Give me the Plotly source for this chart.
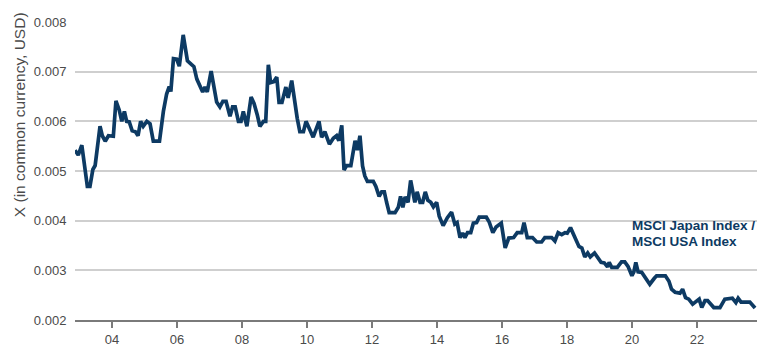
import plotly.graph_objects as go

# Decimal year of each observation
years = [2002.86, 2002.96, 2003.07, 2003.17, 2003.24, 2003.32, 2003.41, 2003.48, 2003.55, 2003.63,
         2003.70, 2003.79, 2003.89, 2004.04, 2004.12, 2004.22, 2004.30, 2004.38, 2004.45, 2004.53,
         2004.62, 2004.72, 2004.80, 2004.88, 2004.96, 2005.07, 2005.17, 2005.27, 2005.46, 2005.58,
         2005.68, 2005.76, 2005.81, 2005.89, 2005.99, 2006.07, 2006.19, 2006.32, 2006.45, 2006.52,
         2006.61, 2006.71, 2006.79, 2006.86, 2006.93, 2007.05, 2007.12, 2007.22, 2007.32, 2007.41,
         2007.51, 2007.63, 2007.71, 2007.79, 2007.89, 2007.97, 2008.04, 2008.15, 2008.28, 2008.37,
         2008.47, 2008.55, 2008.66, 2008.73, 2008.81, 2008.88, 2008.98, 2009.07, 2009.14, 2009.23,
         2009.35, 2009.42, 2009.53, 2009.63, 2009.70, 2009.78, 2009.89, 2009.97, 2010.07, 2010.19,
         2010.37, 2010.45, 2010.55, 2010.69, 2010.81, 2010.91, 2010.98, 2011.07, 2011.14, 2011.22,
         2011.35, 2011.48, 2011.55, 2011.63, 2011.71, 2011.78, 2011.86, 2012.04, 2012.12, 2012.22,
         2012.30, 2012.38, 2012.45, 2012.53, 2012.71, 2012.81, 2012.88, 2012.95, 2013.02, 2013.11,
         2013.19, 2013.25, 2013.32, 2013.39, 2013.48, 2013.56, 2013.64, 2013.72, 2013.81, 2013.89,
         2013.99, 2014.07, 2014.19, 2014.32, 2014.45, 2014.55, 2014.62, 2014.71, 2014.79, 2014.86,
         2014.94, 2015.04, 2015.12, 2015.22, 2015.30, 2015.52, 2015.61, 2015.72, 2015.82, 2015.98,
         2016.10, 2016.21, 2016.36, 2016.47, 2016.61, 2016.68, 2016.78, 2016.94, 2017.07, 2017.22,
         2017.32, 2017.53, 2017.63, 2017.73, 2017.84, 2017.94, 2018.01, 2018.11, 2018.19, 2018.28,
         2018.37, 2018.46, 2018.55, 2018.64, 2018.72, 2018.85, 2018.94, 2019.05, 2019.15, 2019.25,
         2019.30, 2019.38, 2019.55, 2019.68, 2019.78, 2019.88, 2020.00, 2020.06, 2020.12, 2020.19,
         2020.30, 2020.42, 2020.55, 2020.69, 2020.76, 2021.03, 2021.14, 2021.22, 2021.33, 2021.48,
         2021.56, 2021.65, 2021.75, 2021.87, 2021.99, 2022.07, 2022.15, 2022.25, 2022.33, 2022.40,
         2022.52, 2022.71, 2022.86, 2023.09, 2023.20, 2023.27, 2023.36, 2023.63, 2023.79]

# MSCI Japan / MSCI USA ratio, in thousandths
ratio_milli = [5.42, 5.32, 5.52, 5.03, 4.69, 4.69, 5.03, 5.11, 5.55, 5.90,
               5.71, 5.60, 5.71, 5.70, 6.41, 6.23, 6.00, 6.20, 6.00, 5.99,
               5.81, 5.79, 5.71, 6.00, 5.90, 6.00, 5.95, 5.60, 5.60, 6.20,
               6.55, 6.70, 6.60, 7.26, 7.25, 7.11, 7.74, 7.22, 7.14, 7.10,
               6.85, 6.69, 6.59, 6.69, 6.59, 7.01, 6.72, 6.39, 6.29, 6.40,
               6.40, 6.10, 6.29, 6.29, 6.00, 6.00, 6.20, 5.90, 6.49, 6.36,
               6.13, 5.90, 6.00, 6.00, 7.14, 6.78, 6.80, 6.89, 6.38, 6.38,
               6.69, 6.47, 6.82, 6.29, 6.06, 5.79, 5.79, 6.00, 5.87, 5.68,
               6.00, 5.68, 5.79, 5.54, 5.66, 5.71, 5.61, 5.92, 5.02, 5.11,
               5.11, 5.61, 5.42, 5.71, 5.10, 4.90, 4.79, 4.79, 4.69, 4.49,
               4.58, 4.58, 4.37, 4.16, 4.16, 4.27, 4.49, 4.27, 4.48, 4.37,
               4.81, 4.58, 4.37, 4.58, 4.37, 4.37, 4.58, 4.41, 4.37, 4.28,
               4.37, 4.09, 3.90, 4.06, 4.17, 3.93, 3.96, 3.66, 3.75, 3.66,
               3.76, 3.76, 3.95, 3.96, 4.07, 4.07, 3.97, 3.76, 3.87, 3.95,
               3.45, 3.65, 3.66, 3.76, 3.76, 3.96, 3.66, 3.66, 3.57, 3.57,
               3.66, 3.66, 3.59, 3.76, 3.72, 3.76, 3.75, 3.86, 3.74, 3.65,
               3.48, 3.45, 3.27, 3.35, 3.27, 3.35, 3.26, 3.16, 3.15, 3.07,
               3.16, 3.06, 3.06, 3.17, 3.17, 3.08, 2.89, 2.97, 3.16, 2.97,
               2.96, 2.84, 2.72, 2.84, 2.89, 2.89, 2.78, 2.62, 2.56, 2.54,
               2.62, 2.45, 2.42, 2.32, 2.38, 2.42, 2.25, 2.39, 2.39, 2.33,
               2.25, 2.25, 2.42, 2.44, 2.35, 2.44, 2.36, 2.36, 2.24]

assert len(years) == len(ratio_milli), (len(years), len(ratio_milli))
ratio = [v / 1000 for v in ratio_milli]

x_tick_years = [2004, 2006, 2008, 2010, 2012, 2014, 2016, 2018, 2020, 2022]
x_tick_labels = ["04", "06", "08", "10", "12", "14", "16", "18", "20", "22"]
y_tick_vals = [0.002, 0.003, 0.004, 0.005, 0.006, 0.007, 0.008]

series_name = ["MSCI Japan Index /", "MSCI USA Index"]
y_title = "X (in common currency, USD)"

NAVY = "#0d3a63"
FONT = "Liberation Sans, Arial, sans-serif"

fig = go.Figure()
fig.add_trace(go.Scatter(
    x=years, y=ratio, mode="lines",
    line=dict(color=NAVY, width=3.7, shape="linear"),
    showlegend=False, hoverinfo="skip",
))

# page body has an 8px default margin, so the figure is 8px smaller on each axis
fig.update_layout(
    width=762, height=351,
    margin=dict(l=67, r=13, t=14, b=39),
    paper_bgcolor="white", plot_bgcolor="white",
    font=dict(family=FONT, size=13, color="#4a4a4a"),
    xaxis=dict(
        range=[2002.86, 2023.85], automargin=False,
        tickmode="array", tickvals=x_tick_years, ticktext=x_tick_labels,
        showgrid=False, zeroline=False,
        showline=True, linecolor="#7a7a7a", linewidth=2,
        ticks="outside", ticklen=6, tickwidth=2, tickcolor="#7a7a7a",
        tickfont=dict(size=13, color="#4a4a4a"),
    ),
    yaxis=dict(
        range=[0.002, 0.008], automargin=False,
        tickmode="array", tickvals=y_tick_vals, tickformat=".3f",
        showgrid=True, gridcolor="#cfcfcf", gridwidth=1.5,
        zeroline=False, showline=False,
        ticks="outside", ticklen=5, tickcolor="rgba(0,0,0,0)",
        tickfont=dict(size=13, color="#4a4a4a"),
    ),
)

# Rotated y-axis title
fig.add_annotation(
    text=y_title, xref="paper", yref="paper",
    x=-0.081, y=0.69, xanchor="center", yanchor="middle",
    textangle=-90, showarrow=False,
    font=dict(family=FONT, size=15.5, color="#4a4a4a"),
)

# Series label
for i, line in enumerate(series_name):
    fig.add_annotation(
        text="<b>" + line + "</b>", xref="paper", yref="paper",
        x=0.8137, y=[0.318, 0.263][i], xanchor="left", yanchor="middle",
        showarrow=False,
        font=dict(family=FONT, size=13.5, color=NAVY),
    )

fig.write_html("out.html")
